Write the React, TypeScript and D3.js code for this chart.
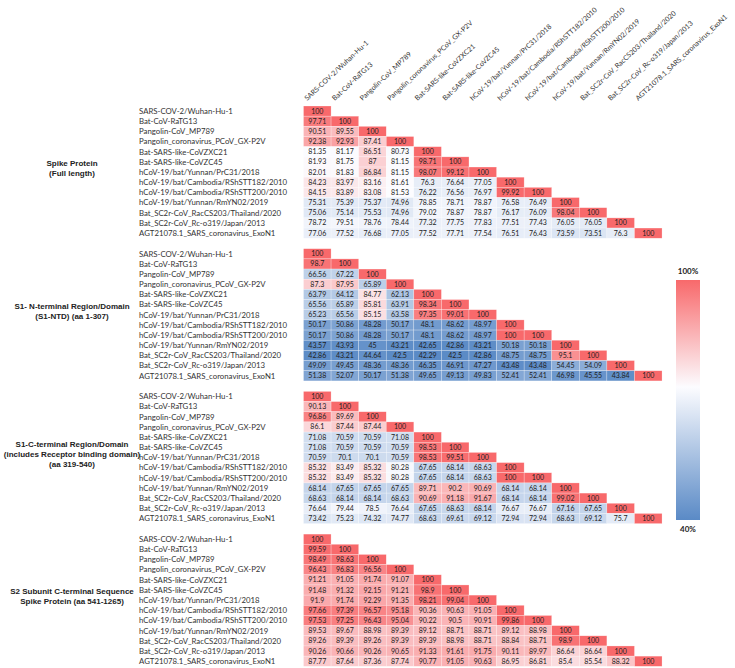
import React from "react";
import * as d3 from "d3";

const strains = [
  "SARS-COV-2/Wuhan-Hu-1",
  "Bat-CoV-RaTG13",
  "Pangolin-CoV_MP789",
  "Pangolin_coronavirus_PCoV_GX-P2V",
  "Bat-SARS-like-CoVZXC21",
  "Bat-SARS-like-CoVZC45",
  "hCoV-19/bat/Yunnan/PrC31/2018",
  "hCoV-19/bat/Cambodia/RShSTT182/2010",
  "hCoV-19/bat/Cambodia/RShSTT200/2010",
  "hCoV-19/bat/Yunnan/RmYN02/2019",
  "Bat_SC2r-CoV_RacCS203/Thailand/2020",
  "Bat_SC2r-CoV_Rc-o319/Japan/2013",
  "AGT21078.1_SARS_coronavirus_ExoN1",
];

const blockTitles = [
  ["Spike Protein", "(Full length)"],
  ["S1- N-terminal Region/Domain", "(S1-NTD) (aa 1-307)"],
  ["S1-C-terminal Region/Domain", "(includes Receptor binding domain)", "(aa 319-540)"],
  ["S2 Subunit C-terminal Sequence", "Spike Protein (aa 541-1265)"],
];

const spikeFull = [
  [100],
  [97.71, 100],
  [90.51, 89.55, 100],
  [92.38, 92.93, 87.41, 100],
  [81.35, 81.17, 86.51, 80.73, 100],
  [81.93, 81.75, 87, 81.15, 98.71, 100],
  [82.01, 81.83, 86.84, 81.15, 98.07, 99.12, 100],
  [84.23, 83.97, 83.16, 81.61, 76.3, 76.64, 77.05, 100],
  [84.15, 83.89, 83.08, 81.53, 76.22, 76.56, 76.97, 99.92, 100],
  [75.31, 75.39, 75.37, 74.96, 78.85, 78.71, 78.87, 76.58, 76.49, 100],
  [75.06, 75.14, 75.53, 74.96, 79.02, 78.87, 78.87, 76.17, 76.09, 98.04, 100],
  [78.72, 79.51, 78.76, 78.44, 77.32, 77.75, 77.83, 77.51, 77.43, 76.05, 76.05, 100],
  [77.06, 77.52, 76.68, 77.05, 77.52, 77.71, 77.54, 76.51, 76.43, 73.59, 73.51, 76.3, 100],
];

const s1Ntd = [
  [100],
  [98.7, 100],
  [66.56, 67.22, 100],
  [87.3, 87.95, 65.89, 100],
  [63.79, 64.12, 84.77, 62.13, 100],
  [65.56, 65.89, 85.81, 63.91, 98.34, 100],
  [65.23, 65.56, 85.15, 63.58, 97.35, 99.01, 100],
  [50.17, 50.86, 48.28, 50.17, 48.1, 48.62, 48.97, 100],
  [50.17, 50.86, 48.28, 50.17, 48.1, 48.62, 48.97, 100, 100],
  [43.57, 43.93, 45, 43.21, 42.65, 42.86, 43.21, 50.18, 50.18, 100],
  [42.86, 43.21, 44.64, 42.5, 42.29, 42.5, 42.86, 48.75, 48.75, 95.1, 100],
  [49.09, 49.45, 48.36, 48.36, 46.35, 46.91, 47.27, 43.48, 43.48, 54.45, 54.09, 100],
  [51.38, 52.07, 50.17, 51.38, 49.65, 49.13, 49.83, 52.41, 52.41, 46.98, 45.55, 43.84, 100],
];

const s1Ctd = [
  [100],
  [90.13, 100],
  [96.86, 89.69, 100],
  [86.1, 87.44, 87.44, 100],
  [71.08, 70.59, 70.59, 71.08, 100],
  [71.08, 70.59, 70.59, 70.59, 98.53, 100],
  [70.59, 70.1, 70.1, 70.59, 98.53, 99.51, 100],
  [85.32, 83.49, 85.32, 80.28, 67.65, 68.14, 68.63, 100],
  [85.32, 83.49, 85.32, 80.28, 67.65, 68.14, 68.63, 100, 100],
  [68.14, 67.65, 67.65, 67.65, 89.71, 90.2, 90.69, 68.14, 68.14, 100],
  [68.63, 68.14, 68.14, 68.63, 90.69, 91.18, 91.67, 68.14, 68.14, 99.02, 100],
  [76.64, 79.44, 78.5, 76.64, 67.65, 68.63, 68.14, 76.67, 76.67, 67.16, 67.65, 100],
  [73.42, 75.23, 74.32, 74.77, 68.63, 69.61, 69.12, 72.94, 72.94, 68.63, 69.12, 75.7, 100],
];

const s2 = [
  [100],
  [99.59, 100],
  [98.49, 98.63, 100],
  [96.43, 96.83, 96.56, 100],
  [91.21, 91.05, 91.74, 91.07, 100],
  [91.48, 91.32, 92.15, 91.21, 98.9, 100],
  [91.9, 91.74, 92.29, 91.35, 98.21, 99.04, 100],
  [97.66, 97.39, 96.57, 95.18, 90.36, 90.63, 91.05, 100],
  [97.53, 97.25, 96.43, 95.04, 90.22, 90.5, 90.91, 99.86, 100],
  [89.53, 89.67, 88.98, 89.39, 89.12, 88.71, 88.71, 89.12, 88.98, 100],
  [89.26, 89.39, 89.26, 89.39, 89.39, 88.98, 88.71, 88.84, 88.71, 98.9, 100],
  [90.26, 90.66, 90.26, 90.65, 91.33, 91.61, 91.75, 90.11, 89.97, 86.64, 86.64, 100],
  [87.77, 87.64, 87.36, 87.74, 90.77, 91.05, 90.63, 86.95, 86.81, 85.4, 85.54, 88.32, 100],
];

const blocks = [spikeFull, s1Ntd, s1Ctd, s2];
const legendLabels = ["100%", "40%"];
const colorMid = 81.5;

export default function App() {
  const W = 735, H = 668;
  const x = d3.scaleBand().domain(strains).range([303.5, 303.5 + 13 * 27.58]).padding(0);
  const rowH = 10.17;
  const blockTop = (b: number) => 106 + b * 142.7;
  const allVals = blocks.flat(2);
  const vmin = d3.min(allVals) as number;
  const color = d3
    .scaleLinear<string>()
    .domain([vmin, colorMid, 100])
    .range(["#5A8AC6", "#FCFCFF", "#F8696B"])
    .clamp(true);

  const cellFont = "Lato, 'Open Sans', sans-serif";
  const labelX = 139;
  const titleX = 72;

  return (
    <svg width={W} height={H} style={{ position: "absolute", left: 0, top: 0, background: "#fff" }}>
      <defs>
        <linearGradient id="legendGrad" x1="0" y1="0" x2="0" y2="1">
          <stop offset="0%" stopColor="#F8696B" />
          <stop offset="44.6%" stopColor="#FCFCFF" />
          <stop offset="100%" stopColor="#5A8AC6" />
        </linearGradient>
      </defs>
      <rect width={W} height={H} fill="#fff" />
      {/* column headers */}
      {strains.map((s) => {
        const cx = (x(s) as number) + x.bandwidth() / 2 - 10;
        return (
          <text
            key={"h" + s}
            transform={`translate(${cx},101) rotate(-43)`}
            fontFamily={cellFont}
            fontSize={7}
            fill="#333"
          >
            {s}
          </text>
        );
      })}
      {blocks.map((data, b) => {
        const y = d3
          .scaleBand()
          .domain(strains)
          .range([blockTop(b), blockTop(b) + 13 * rowH]);
        const center = blockTop(b) + (13 * rowH) / 2 - 4;
        const lines = blockTitles[b];
        const lh = 10;
        const startY = center - ((lines.length - 1) * lh) / 2 + 3;
        return (
          <g key={"b" + b}>
            {lines.map((t, k) => (
              <text
                key={k}
                x={titleX}
                y={startY + k * lh}
                textAnchor="middle"
                fontFamily="'Liberation Sans', Arial, sans-serif"
                fontWeight="bold"
                fontSize={8}
                fill="#222"
              >
                {t}
              </text>
            ))}
            {strains.map((s) => (
              <text
                key={"r" + s}
                x={labelX}
                y={(y(s) as number) + y.bandwidth() / 2 + 2.8}
                fontFamily={cellFont}
                fontSize={7.8}
                fill="#333"
              >
                {s}
              </text>
            ))}
            {data.map((row, i) =>
              row.map((v, j) => {
                const rx = x(strains[j]) as number;
                const ry = y(strains[i]) as number;
                return (
                  <g key={i + "-" + j}>
                    <rect
                      x={rx}
                      y={ry}
                      width={x.bandwidth()}
                      height={y.bandwidth()}
                      fill={color(v)}
                      stroke="#ffffff"
                      strokeOpacity={0.5}
                      strokeWidth={0.5}
                    />
                    <text
                      x={rx + x.bandwidth() / 2}
                      y={ry + y.bandwidth() / 2 + 2.5}
                      textAnchor="middle"
                      fontFamily={cellFont}
                      fontSize={7}
                      fill="#222"
                    >
                      {String(v)}
                    </text>
                  </g>
                );
              })
            )}
          </g>
        );
      })}
      {/* legend */}
      <rect x={676} y={280} width={24} height={240} fill="url(#legendGrad)" />
      <text x={688} y={274} textAnchor="middle" fontFamily={cellFont} fontWeight="bold" fontSize={8} fill="#222">
        {legendLabels[0]}
      </text>
      <text x={688} y={532} textAnchor="middle" fontFamily={cellFont} fontWeight="bold" fontSize={8} fill="#222">
        {legendLabels[1]}
      </text>
    </svg>
  );
}
